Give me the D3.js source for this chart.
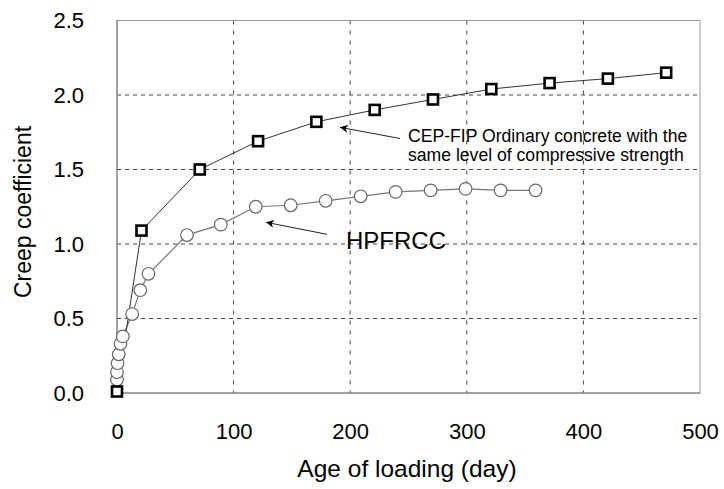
<!DOCTYPE html>
<html>
<head>
<meta charset="utf-8">
<script src="https://cdn.jsdelivr.net/npm/d3@7"></script>
<style>
  html, body { margin: 0; padding: 0; background: #fff; }
  svg { display: block; font-family: "Liberation Sans", Arial, sans-serif; }
</style>
</head>
<body>
<svg id="chart" width="724" height="489"></svg>
<script>
// ---- data ----
const cepAge = [0, 21, 71, 121, 171, 221, 271, 321, 371, 421, 471];
const cepCreep = [0.01, 1.09, 1.50, 1.69, 1.82, 1.90, 1.97, 2.04, 2.08, 2.11, 2.15];

const hpAge = [0, 0, 0.5, 1.5, 3, 5, 13, 20, 27, 60, 89, 119, 149, 179, 209, 239, 269, 299, 329, 359];
const hpCreep = [0.09, 0.14, 0.20, 0.26, 0.33, 0.38, 0.53, 0.69, 0.80, 1.06, 1.13, 1.25, 1.26, 1.29, 1.32, 1.35, 1.36, 1.37, 1.36, 1.36];

const xTicks = [0, 100, 200, 300, 400, 500];
const yTicks = [0.0, 0.5, 1.0, 1.5, 2.0, 2.5];

const xTitle = "Age of loading (day)";
const yTitle = "Creep coefficient";
const cepLabel = ["CEP-FIP Ordinary concrete with the", "same level of compressive strength"];
const hpLabel = "HPFRCC";

// ---- layout ----
const svg = d3.select("#chart");
const pL = 117, pR = 700, pT = 20.5, pB = 393;
const x = d3.scaleLinear().domain([0, 500]).range([pL, pR]);
const y = d3.scaleLinear().domain([0, 2.5]).range([pB, pT]);

// grid
const grid = svg.append("g");
grid.selectAll("line.h").data(yTicks.filter(v => v > 0 && v < 2.5)).join("line")
  .attr("x1", pL).attr("x2", pR)
  .attr("y1", d => y(d)).attr("y2", d => y(d))
  .attr("stroke", "#444").attr("stroke-width", 1).attr("stroke-dasharray", "4,4");
grid.selectAll("line.v").data(xTicks.filter(v => v > 0 && v < 500)).join("line")
  .attr("y1", pT).attr("y2", pB)
  .attr("x1", d => x(d)).attr("x2", d => x(d))
  .attr("stroke", "#444").attr("stroke-width", 1).attr("stroke-dasharray", "4,6");

// frame
svg.append("rect").attr("x", pL).attr("y", pT).attr("width", pR - pL).attr("height", pB - pT)
  .attr("fill", "none").attr("stroke", "#999").attr("stroke-width", 1);
svg.append("line").attr("x1", pL).attr("x2", pL).attr("y1", pT).attr("y2", pB).attr("stroke", "#777");
svg.append("line").attr("x1", pL).attr("x2", pR).attr("y1", pB).attr("y2", pB).attr("stroke", "#777");

// axes (labels only)
const xAxis = d3.axisBottom(x).tickValues(xTicks).tickSize(0).tickPadding(0).tickFormat(d3.format("d"));
const gx = svg.append("g").attr("transform", `translate(0,${pB + 30})`).call(xAxis);
gx.select(".domain").remove();
gx.selectAll("text").attr("font-size", 22).attr("fill", "#000").attr("font-family", "Liberation Sans, Arial, sans-serif");

const yAxis = d3.axisLeft(y).tickValues(yTicks).tickSize(0).tickPadding(0).tickFormat(d3.format(".1f"));
const gy = svg.append("g").attr("transform", `translate(${pL - 33},0)`).call(yAxis);
gy.select(".domain").remove();
gy.selectAll("text").attr("font-size", 22).attr("fill", "#000").attr("font-family", "Liberation Sans, Arial, sans-serif");

// titles
svg.append("text").attr("x", 407).attr("y", 477).attr("text-anchor", "middle")
  .attr("font-size", 24.5).attr("fill", "#000").text(xTitle);
svg.append("text").attr("transform", "translate(31,212) rotate(-90)").attr("text-anchor", "middle")
  .attr("font-size", 23).attr("fill", "#000").text(yTitle);

// lines
const cepData = cepAge.map((a, i) => [a, cepCreep[i]]);
const hpData = hpAge.map((a, i) => [a, hpCreep[i]]);
const line = d3.line().x(d => x(d[0])).y(d => y(d[1]));

svg.append("path").datum(hpData).attr("d", line).attr("fill", "none").attr("stroke", "#777").attr("stroke-width", 1.2);
svg.append("path").datum(cepData).attr("d", line).attr("fill", "none").attr("stroke", "#333").attr("stroke-width", 1);

// markers
svg.append("g").selectAll("circle").data(hpData).join("circle")
  .attr("cx", d => x(d[0])).attr("cy", d => y(d[1])).attr("r", 6.3)
  .attr("fill", "#fff").attr("stroke", "#666").attr("stroke-width", 1.2);
svg.append("g").selectAll("rect").data(cepData).join("rect")
  .attr("x", d => x(d[0]) - 5).attr("y", d => y(d[1]) - 5).attr("width", 10).attr("height", 10)
  .attr("fill", "#fff").attr("stroke", "#000").attr("stroke-width", 2.6);

// annotations
const defs = svg.append("defs");
defs.append("marker").attr("id", "arr").attr("viewBox", "0 0 10 10").attr("refX", 10).attr("refY", 5)
  .attr("markerWidth", 13).attr("markerHeight", 8).attr("markerUnits", "userSpaceOnUse").attr("orient", "auto")
  .append("path").attr("d", "M0,0 L10,5 L0,10 L3,5 Z").attr("fill", "#000");

svg.append("line").attr("x1", 400).attr("y1", 138.5).attr("x2", 340).attr("y2", 127.3)
  .attr("stroke", "#222").attr("stroke-width", 1).attr("marker-end", "url(#arr)");
svg.append("line").attr("x1", 327).attr("y1", 234.3).attr("x2", 266).attr("y2", 222.3)
  .attr("stroke", "#222").attr("stroke-width", 1).attr("marker-end", "url(#arr)");

const t = svg.append("text").attr("font-size", 17.6).attr("fill", "#000");
t.selectAll("tspan").data(cepLabel).join("tspan")
  .attr("x", 408).attr("y", (d, i) => 142 + i * 18.5).text(d => d);

svg.append("text").attr("x", 346).attr("y", 249).attr("font-size", 24).attr("fill", "#000").text(hpLabel);
</script>
</body>
</html>
